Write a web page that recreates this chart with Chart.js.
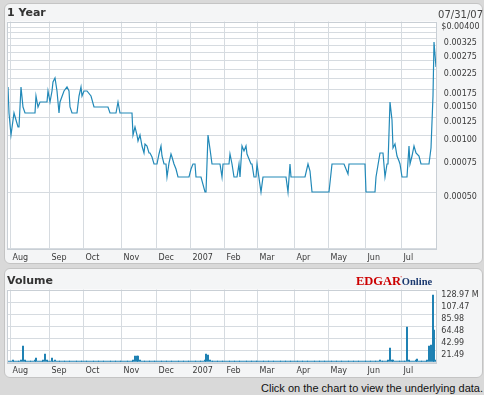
<!DOCTYPE html>
<html>
<head>
<meta charset="utf-8">
<script src="https://cdn.jsdelivr.net/npm/chart.js@4.4.0/dist/chart.umd.min.js"></script>
<style>
body { margin: 0; width: 484px; height: 395px; background: #d9d9d9; position: relative; overflow: hidden; font-family: "DejaVu Sans", sans-serif; }
.panel { position: absolute; left: 4px; width: 479px; box-sizing: border-box; background: #f4f5f6; border: 1px solid #c4c4c4; border-radius: 6px; }
#p1 { top: 3px; height: 261px; }
#p2 { top: 268px; height: 110px; }
canvas { position: absolute; left: 0; }
#c1 { top: 0; }
#c2 { top: 268px; }
.title { position: absolute; left: 7px; font-weight: bold; font-size: 11px; line-height: 13px; color: #333; }
#date { position: absolute; right: 1px; top: 9px; font-size: 10px; line-height: 12px; color: #444; }
#logo { position: absolute; left: 356px; top: 271px; font-family: "Liberation Serif", serif; font-weight: bold; white-space: nowrap; }
#logo .e { color: #cc0000; font-size: 12.5px; }
#logo .r { color: #cc0000; font-size: 6px; vertical-align: 5px; margin-left: -1px; }
#logo .o { color: #1c3a70; font-size: 10.5px; }
#foot { position: absolute; right: 1px; top: 382px; font-family: "Liberation Sans", Arial, sans-serif; font-size: 11px; line-height: 12px; color: #111; }
</style>
</head>
<body>
<div class="panel" id="p1"></div>
<div class="panel" id="p2"></div>
<canvas id="c1" width="484" height="268"></canvas>
<canvas id="c2" width="484" height="112"></canvas>
<div class="title" style="top:6px">1 Year</div>
<div id="date">07/31/07</div>
<div class="title" style="top:274px">Volume</div>
<div id="logo"><span class="e">EDGAR</span><span class="r">'</span><span class="o">Online</span></div>
<div id="foot">Click on the chart to view the underlying data.</div>
<script>
// x axis = trading day index, 0 = Jul 31 2006
var monthStart = [1, 24, 44, 66, 87, 107, 127, 146, 168, 188, 210, 231];
var monthLabels = ["Aug", "Sep", "Oct", "Nov", "Dec", "2007", "Feb", "Mar", "Apr", "May", "Jun", "Jul"];

// price (log axis)
var priceDay = [
    -1, 0, 1, 3, 4, 5, 6, 7, 8, 9, 10, 15, 16, 17, 18, 22, 23,
    24, 25, 26, 27, 28, 29, 30, 32, 34, 35, 36, 37, 40, 41, 42, 43,
    44, 46, 48, 50, 58, 59, 63, 64, 65,
    72, 73, 74, 75, 76, 77, 78, 79, 80, 81, 82, 83, 84, 85,
    87, 88, 89, 90, 91, 92, 93, 94, 95, 96, 97, 98, 99, 106,
    107, 108, 109, 110, 113, 115, 116, 117, 118, 119, 124, 125, 126,
    129, 130, 131, 132, 134, 135, 136, 137, 138, 139, 140, 142, 143, 144, 145,
    146, 148, 149, 163, 164, 165, 166,
    174, 176, 177, 178,
    188, 190, 197, 199, 200, 209,
    210, 215, 216, 218, 220, 221, 222, 223, 224, 225, 226, 227, 228, 229, 230,
    231, 234, 235, 236, 237, 238, 239, 241, 242, 247, 248, 249, 250, 251
];
var priceValue = [
    0.0018, 0.0013, 0.0010, 0.0013, 0.0012, 0.0011, 0.0011, 0.0018, 0.0014, 0.0013, 0.0013, 0.0013, 0.0016, 0.0014, 0.0015, 0.0015, 0.0017,
    0.0015, 0.0017, 0.0019, 0.0020, 0.0017, 0.0013, 0.0015, 0.0017, 0.0018, 0.0017, 0.0014, 0.0013, 0.0013, 0.0016, 0.0018, 0.0016,
    0.0017, 0.0017, 0.0016, 0.0014, 0.0014, 0.0013, 0.0013, 0.0015, 0.0013,
    0.0013, 0.0010, 0.0011, 0.0010, 0.00093, 0.0010, 0.00087, 0.0008, 0.00089, 0.00087, 0.0008, 0.0008, 0.00076, 0.0007,
    0.0007, 0.00079, 0.00087, 0.00077, 0.0007, 0.0007, 0.0006, 0.00071, 0.00079, 0.00076, 0.0007, 0.00066, 0.0006, 0.0006,
    0.00066, 0.0007, 0.0007, 0.0006, 0.0006, 0.0005, 0.0005, 0.0010, 0.00084, 0.0007, 0.0007, 0.0006, 0.0007,
    0.0007, 0.00079, 0.0007, 0.0006, 0.0006, 0.0007, 0.0006, 0.00087, 0.00082, 0.00087, 0.00079, 0.0007, 0.0007, 0.0006, 0.0006,
    0.0007, 0.0005, 0.0006, 0.0006, 0.0005, 0.0007, 0.0006,
    0.0006, 0.0007, 0.00064, 0.0005,
    0.0005, 0.0007, 0.0007, 0.00062, 0.0007, 0.0007,
    0.0005, 0.0005, 0.0006, 0.0008, 0.0008, 0.0006, 0.0007, 0.0007, 0.0015, 0.0012, 0.00085, 0.00089, 0.00077, 0.00073, 0.0007,
    0.0006, 0.0006, 0.00087, 0.0007, 0.00077, 0.00087, 0.0008, 0.00077, 0.0007, 0.0007, 0.00085, 0.0016, 0.0031, 0.0023
];
var priceTicks = [0.004, 0.00375, 0.0035, 0.00325, 0.003, 0.00275, 0.0025, 0.00225, 0.002, 0.00175, 0.0015, 0.00125, 0.001, 0.00075, 0.0005, 0.00025];
var priceTickLabels = ["$0.00400", "", "", "0.00325", "", "0.00275", "", "0.00225", "", "0.00175", "0.00150", "0.00125", "0.00100", "0.00075", "0.00050", ""];

// volume in millions, one value per trading day, by month
var volume = [
    2, // Jul 31
    2, 3, 2, 2, 2.5, 2, 3, 29, 4, 2, 2, 2.5, 2, 2, 3, 7, 2.5, 2, 2, 4, 14, 3, 2,
    2.5, 8, 2, 4, 2, 2, 2.5, 2, 2, 2, 1.5, 2, 2, 2.5, 2, 2, 2, 1.5, 2, 2,
    2, 2, 1.5, 2, 2, 2.5, 2, 2, 1.5, 2, 2, 2, 2, 1.5, 2, 2, 2.5, 2, 2, 2, 1.5, 2,
    2, 2, 2, 1.5, 2, 2, 2, 3, 10, 11, 10, 3, 2, 2, 2, 1.5, 2, 2, 2, 2, 2,
    2, 1.5, 2, 2, 2, 2, 1.5, 2, 2, 2, 2, 1.5, 2, 2, 2, 2, 1.5, 2, 2, 2,
    2, 2, 2, 1.5, 2, 2, 2, 2, 3, 14, 13, 3, 2, 2, 2, 1.5, 2, 2, 2, 2,
    2, 2, 1.5, 2, 2, 2, 2.5, 2, 2, 2, 2, 1.5, 2, 2, 2, 2, 2, 1.5, 2,
    2, 2, 2, 1.5, 2, 2, 2, 2, 1.5, 2, 2, 2, 2, 2, 1.5, 2, 2, 2, 2, 2, 1.5, 2,
    2, 2, 2, 1.5, 2, 2, 2, 2, 2, 1.5, 2, 2, 2, 2, 2, 1.5, 2, 2, 2, 2,
    2, 2, 2, 2, 1.5, 2, 2, 2, 2, 2, 1.5, 2, 2, 2, 2, 2, 2, 1.5, 2, 2, 2, 2,
    2, 2, 2, 2, 2, 1.5, 2, 2.5, 3, 2, 2, 2, 2.5, 3, 25.6, 4, 3, 2, 2, 2, 2,
    2, 2, 2.5, 61.4, 3, 2, 2, 2.5, 4, 6, 2.5, 2, 2, 2, 2.5, 3, 29, 31, 118.8, 57.3, 3
];
var volTicks = [0, 21.495, 42.99, 64.485, 85.98, 107.475, 128.97];
var volTickLabels = ["", "21.49", "42.99", "64.48", "85.98", "107.47", "128.97 M"];

var lineColor = "#2289b8";
var barColor = "#1b7fb2";
var gridColor = "#d6dbe0";
var textColor = "#3a3a3a";

Chart.defaults.font.family = "DejaVu Sans";
Chart.defaults.font.size = 8;

// white plot box with a thin frame
var plotBox = {
    id: "plotBox",
    beforeDraw: function (chart) {
        var a = chart.chartArea, ctx = chart.ctx;
        ctx.save();
        ctx.fillStyle = "#ffffff";
        ctx.fillRect(a.left, a.top, a.right - a.left, a.bottom - a.top);
        ctx.restore();
    },
    afterDraw: function (chart) {
        var a = chart.chartArea, ctx = chart.ctx;
        ctx.save();
        ctx.strokeStyle = "#c9cfd5";
        ctx.lineWidth = 1;
        ctx.strokeRect(Math.round(a.left) + 0.5, Math.round(a.top) + 0.5, Math.round(a.right - a.left), Math.round(a.bottom - a.top));
        ctx.restore();
    }
};

function xAxis(height) {
    return {
        type: "linear",
        min: -1.35,
        max: 251.2,
        offset: false,
        alignToPixels: true,
        afterBuildTicks: function (scale) {
            scale.ticks = monthStart.map(function (d) { return { value: d - 0.5 }; });
        },
        afterFit: function (scale) { scale.height = height; },
        grid: { color: gridColor, drawTicks: false, offset: false },
        border: { display: false },
        ticks: {
            autoSkip: false,
            maxRotation: 0,
            align: "start",
            labelOffset: 2.5,
            padding: 4.6,
            color: textColor,
            callback: function (value, index) { return monthLabels[index]; }
        }
    };
}

function VeGia() {
    var pts = priceDay.map(function (d, i) { return { x: d, y: priceValue[i] }; });
    new Chart(document.getElementById("c1"), {
        type: "line",
        data: {
            datasets: [{
                data: pts,
                borderColor: lineColor,
                borderWidth: 1.2,
                pointRadius: 0,
                tension: 0,
                fill: false
            }]
        },
        options: {
            responsive: false,
            animation: false,
            devicePixelRatio: 1,
            layout: { padding: { left: 7, top: 21.5, right: 0, bottom: 0 } },
            plugins: { legend: { display: false }, tooltip: { enabled: false } },
            scales: {
                x: xAxis(19.7),
                y: {
                    type: "logarithmic",
                    position: "right",
                    min: 0.00025,
                    max: 0.004,
                    alignToPixels: true,
                    afterBuildTicks: function (scale) {
                        scale.ticks = priceTicks.map(function (v) { return { value: v }; });
                    },
                    afterFit: function (scale) { scale.width = 47.7; },
                    grid: { color: gridColor, drawTicks: false },
                    border: { display: false },
                    ticks: {
                        autoSkip: false,
                        crossAlign: "center",
                        padding: 5,
                        labelOffset: 5,
                        color: textColor,
                        callback: function (value) {
                            var i = priceTicks.indexOf(value);
                            return i >= 0 ? priceTickLabels[i] : "";
                        }
                    }
                }
            }
        },
        plugins: [plotBox]
    });
}

function VeKhoiLuong() {
    var pts = volume.map(function (v, i) { return { x: i, y: v }; });
    new Chart(document.getElementById("c2"), {
        type: "bar",
        data: {
            datasets: [{
                data: pts,
                backgroundColor: barColor,
                borderWidth: 0,
                barThickness: 1.3
            }]
        },
        options: {
            responsive: false,
            animation: false,
            devicePixelRatio: 1,
            layout: { padding: { left: 7, top: 21.5, right: 0, bottom: 0 } },
            plugins: { legend: { display: false }, tooltip: { enabled: false } },
            scales: {
                x: xAxis(18),
                y: {
                    type: "linear",
                    position: "right",
                    min: 0,
                    max: 128.97,
                    alignToPixels: true,
                    afterBuildTicks: function (scale) {
                        scale.ticks = volTicks.map(function (v) { return { value: v }; });
                    },
                    afterFit: function (scale) { scale.width = 47.7; },
                    grid: { color: gridColor, drawTicks: false },
                    border: { display: false },
                    ticks: {
                        autoSkip: false,
                        crossAlign: "near",
                        padding: 5,
                        labelOffset: 4.5,
                        color: textColor,
                        callback: function (value, index) { return volTickLabels[index]; }
                    }
                }
            }
        },
        plugins: [plotBox]
    });
}

VeGia();
VeKhoiLuong();
</script>
</body>
</html>
